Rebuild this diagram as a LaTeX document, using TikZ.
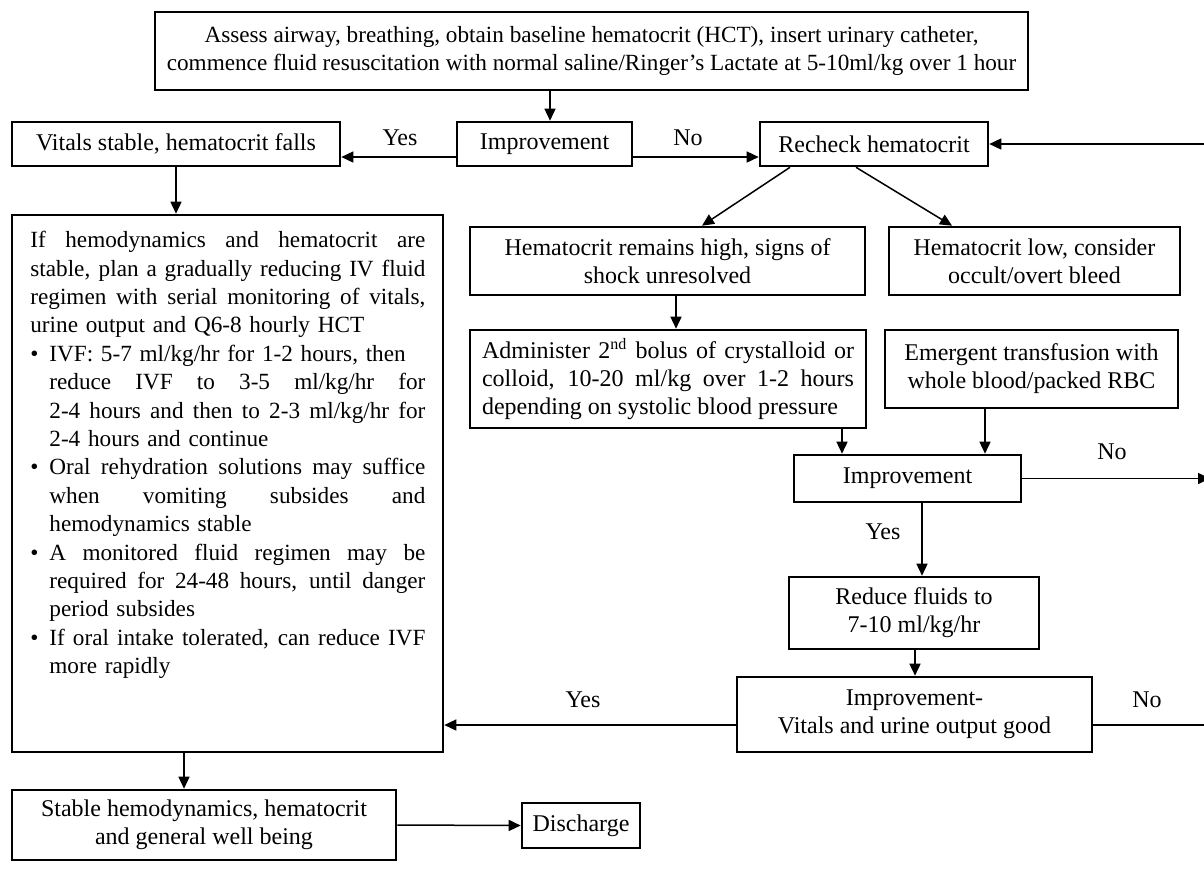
\documentclass[tikz,border=0pt]{standalone}
\usepackage{fontspec}
\setmainfont{Liberation Serif}
\usetikzlibrary{arrows.meta}

\newcommand{\bodyfont}{\fontsize{12}{14}\selectfont}
\newcommand{\smallbody}{\fontsize{11.6}{14}\selectfont}
\newcommand{\planfont}{\fontsize{11.6}{14.2}\selectfont}
% a line set to a given width, the extra room shared by its word spaces
\newcommand{\sj}[2]{\hbox to #1{\spaceskip=\fontdimen2\font plus 1fil\relax #2}}
% one justified line across the full text width
\newcommand{\J}[1]{\noindent\sj{197.5pt}{#1}\par}
% lines of a bulleted item: first line justified / natural, continuation justified / natural
\newcommand{\BJ}[1]{\noindent\makebox[9.5pt][l]{\textbullet}\sj{188pt}{#1}\par}
\newcommand{\BN}[1]{\noindent\makebox[9.5pt][l]{\textbullet}#1\par}
\newcommand{\BC}[1]{\noindent\hspace*{9.5pt}\sj{188pt}{#1}\par}
\newcommand{\BE}[1]{\noindent\hspace*{9.5pt}#1\par}

\tikzset{
  box/.style={draw, line width=1.3pt, inner sep=0pt, align=center, font=\bodyfont},
  conn/.style={line width=0.75pt, -{Triangle[length=6pt,width=5.5pt]}},
  plain/.style={line width=0.75pt},
  lbl/.style={font=\bodyfont, inner sep=0pt},
}

\begin{document}
\begin{tikzpicture}[x=0.5pt,y=-0.5pt]
\fill[white] (0,0) rectangle (1204,875);
\useasboundingbox (0,0) rectangle (1204,875);

% boxes
\node[box, font=\smallbody, minimum width=436.5pt, minimum height=39pt] (top) at (591.5,51)
  {Assess airway, breathing, obtain baseline hematocrit (HCT), insert urinary catheter,\\commence fluid resuscitation with normal saline/Ringer's Lactate at 5-10ml/kg over 1 hour};
\node[box, minimum width=164pt, minimum height=22pt] (vitals) at (176,144) {Vitals stable, hematocrit falls};
\node[box, minimum width=87.5pt, minimum height=22pt] (imp1) at (544.5,144) {Improvement};
\node[box, minimum width=114pt, minimum height=22pt] (recheck) at (874,144) {Recheck hematocrit};
\node[box, minimum width=197.5pt, minimum height=34pt] (high) at (667.5,261) {Hematocrit remains high, signs of\\shock unresolved};
\node[box, minimum width=145.5pt, minimum height=34pt] (low) at (1034.5,261) {Hematocrit low, consider\\occult/overt bleed};
\node[box, minimum width=198pt, minimum height=49pt, align=left] (admin) at (668,379) {%
  \sj{186pt}{Administer 2\textsuperscript{nd} bolus of crystalloid or}\\
  \sj{186pt}{colloid, 10-20 ml/kg over 1-2 hours}\\
  depending on systolic blood pressure};
\node[box, minimum width=146.5pt, minimum height=39pt] (emerg) at (1031.5,369) {Emergent transfusion with\\whole blood/packed RBC};
\node[box, minimum width=113.5pt, minimum height=23.5pt] (imp2) at (907.5,478.5) {Improvement};
\node[box, minimum width=125pt, minimum height=36pt] (reduce) at (914,613) {Reduce fluids to\\7-10 ml/kg/hr};
\node[box, minimum width=177.5pt, minimum height=37.5pt] (imp3) at (914.5,714.5) {Improvement-\\Vitals and urine output good};
\node[box, minimum width=215.5pt, minimum height=268.5pt] (plan) at (227.5,483.5) {};
\node[anchor=north west, inner sep=0pt, text width=197.5pt, font=\planfont] (plantext) at (30,231) {%
  \J{If hemodynamics and hematocrit are}
  \J{stable, plan a gradually reducing IV fluid}
  \J{regimen with serial monitoring of vitals,}
  \noindent urine output and Q6-8 hourly HCT\par
  \BN{IVF: 5-7 ml/kg/hr for 1-2 hours, then}
  \BC{reduce IVF to 3-5 ml/kg/hr for}
  \BC{2-4 hours and then to 2-3 ml/kg/hr for}
  \BE{2-4 hours and continue}
  \BJ{Oral rehydration solutions may suffice}
  \BC{when vomiting subsides and}
  \BE{hemodynamics stable}
  \BJ{A monitored fluid regimen may be}
  \BC{required for 24-48 hours, until danger}
  \BE{period subsides}
  \BJ{If oral intake tolerated, can reduce IVF}
  \BE{more rapidly}};
\node[box, minimum width=192pt, minimum height=35pt] (stable) at (204,825) {Stable hemodynamics, hematocrit\\and general well being};
\node[box, minimum width=59pt, minimum height=22.5pt] (discharge) at (581,825.5) {Discharge};

% free ends at the right margin
\coordinate (r1) at (1210,144);
\coordinate (r2) at (1210,478.5);
\coordinate (r3) at (1206,725);

% connectors
\draw[conn] (550,0 |- top.south) -- (550,0 |- imp1.north);
\draw[conn] (imp1.west |- 0,157) -- (vitals.east |- 0,157);
\draw[conn] (imp1.east |- 0,157) -- (recheck.west |- 0,157);
\draw[conn] (r1) -- (recheck.east);
\draw[conn] (790,0 |- recheck.south) -- (702,0 |- high.north);
\draw[conn] (856,0 |- recheck.south) -- (952,0 |- low.north);
\draw[conn] (676,0 |- high.south) -- (676,0 |- admin.north);
\draw[conn] (842,0 |- admin.south) -- (842,0 |- imp2.north);
\draw[conn] (985,0 |- emerg.south) -- (985,0 |- imp2.north);
\draw[conn] (imp2.east) -- (r2);
\draw[conn] (922,0 |- imp2.south) -- (922,0 |- reduce.north);
\draw[conn] (915,0 |- reduce.south) -- (915,0 |- imp3.north);
\draw[plain] (imp3.east |- 0,725) -- (r3);
\draw[conn] (imp3.west |- 0,725) -- (plan.east |- 0,725);
\draw[conn] (176,0 |- vitals.south) -- (176,0 |- plan.north);
\draw[conn] (184,0 |- plan.south) -- (184,0 |- stable.north);
\draw[conn] (stable.east) -- (discharge.west);

% branch labels
\node[lbl] (yes1) at (400,138) {Yes};
\node[lbl] (no1) at (688,138) {No};
\node[lbl] (no2) at (1112,452) {No};
\node[lbl] (yes2) at (883,532) {Yes};
\node[lbl] (yes3) at (583,700) {Yes};
\node[lbl] (no3) at (1147,700) {No};
\end{tikzpicture}
\end{document}
